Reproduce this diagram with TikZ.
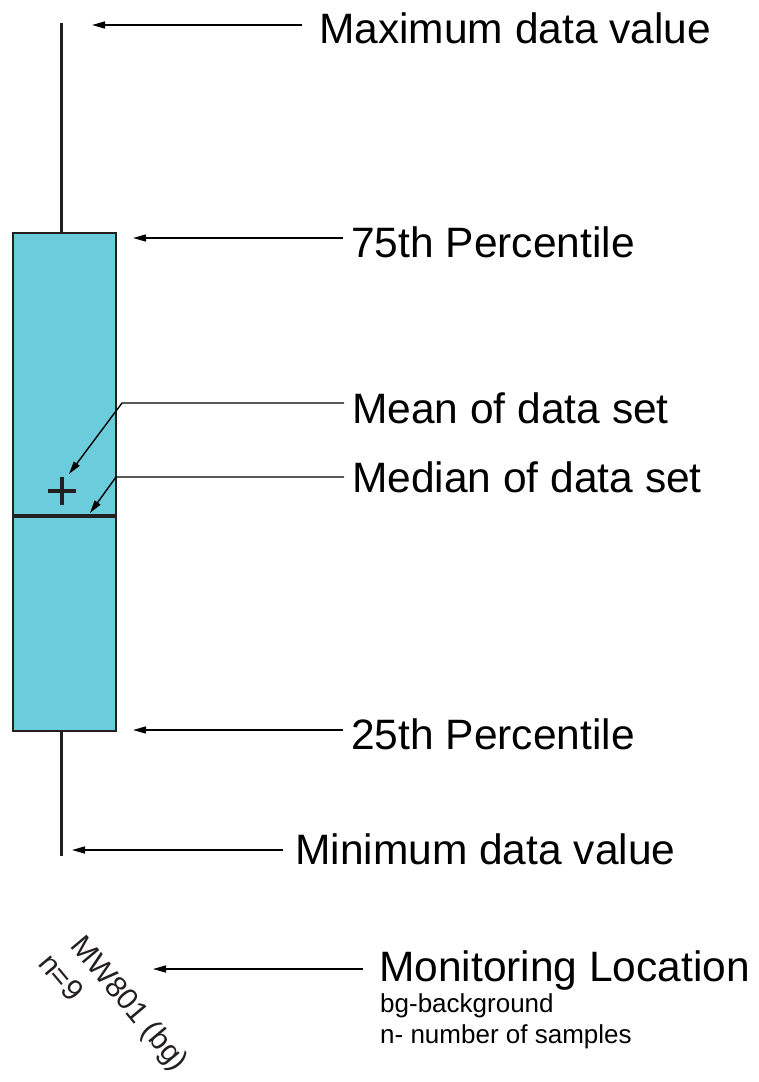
\documentclass[tikz,border=0pt]{standalone}
\usepackage{fontspec}
\setmainfont{Liberation Sans}
\usetikzlibrary{arrows.meta}
\definecolor{boxfill}{HTML}{6BCDDB}
\definecolor{ink}{HTML}{231F20}
\begin{document}
\begin{tikzpicture}[x=1pt,y=-1pt,
  biglabel/.style={anchor=west,inner sep=0pt,font=\fontsize{42.5}{50}\selectfont,text height=30pt,text depth=0pt},
  smalllabel/.style={anchor=base west,inner sep=0pt,font=\fontsize{26}{31}\selectfont},
  rotlabel/.style={anchor=base west,inner sep=0pt,rotate=-50,font=\fontsize{30}{36}\selectfont,text=ink},
  pointer/.style={draw=black,line width=1.4pt,-{Triangle[length=13pt,width=7pt]}},
  whisker/.style={draw=ink,line width=3pt},
  iqrbox/.style={draw=ink,fill=boxfill,line width=2.8pt,minimum width=103pt,minimum height=498pt,inner sep=0pt,outer sep=0pt},
  medianline/.style={draw=ink,line width=4pt},
  plusmark/.style={draw=ink,line width=4pt}]
\useasboundingbox (0,0) rectangle (758,1082);

% box and whiskers
\coordinate (maxpt) at (61,23);
\coordinate (minpt) at (61,856);
\draw[whisker] (maxpt) -- (maxpt |- 0,234);
\draw[whisker] (minpt |- 0,730) -- (minpt);
\node[iqrbox] (box) at (64.5,482) {};
\coordinate (med) at (64.5,516);
\draw[medianline] (box.west |- med) -- (box.east |- med);
\coordinate (meanpt) at (62,491);
\draw[plusmark] (meanpt) ++(-14,0) -- ++(28,0);
\draw[plusmark] (meanpt) ++(0,-14) -- ++(0,28);

% labels and pointers
\node[biglabel] (lmax) at (319,28) {Maximum data value};
\coordinate (tmax) at (92,25);
\draw[pointer] ([xshift=-17pt,yshift=3pt]lmax.west) -- (tmax);

\node[biglabel] (lq3) at (351,242) {75th Percentile};
\coordinate (tq3) at (133,238);
\draw[pointer] ([xshift=-8pt,yshift=4pt]lq3.west) -- (tq3);

\node[biglabel] (lmean) at (352,408) {Mean of data set};
\coordinate (bmean) at (122,403);
\coordinate (tmean) at (69,474);
\draw[pointer] ([xshift=-8pt,yshift=5pt]lmean.west) -- (bmean) -- (tmean);

\node[biglabel] (lmed) at (352,477) {Median of data set};
\coordinate (bmed) at (116,477);
\coordinate (tmed) at (90,513);
\draw[pointer] ([xshift=-8pt]lmed.west) -- (bmed) -- (tmed);

\node[biglabel] (lq1) at (351,734) {25th Percentile};
\coordinate (tq1) at (133,730);
\draw[pointer] ([xshift=-8pt,yshift=4pt]lq1.west) -- (tq1);

\node[biglabel] (lmin) at (295,849) {Minimum data value};
\coordinate (tmin) at (72,850);
\draw[pointer] ([xshift=-12pt,yshift=-1pt]lmin.west) -- (tmin);

\node[biglabel] (lloc) at (379,966) {Monitoring Location};
\coordinate (tloc) at (153,969);
\draw[pointer] ([xshift=-16pt,yshift=-3pt]lloc.west) -- (tloc);

\node[smalllabel] (lbg) at (380,1012) {bg-background};
\node[smalllabel] (ln) at (380,1043) {n- number of samples};

% rotated location label
\node[rotlabel] (loc) at (69,946) {MW801 (bg)};
\node[rotlabel] (cnt) at (37,964) {n=9};
\end{tikzpicture}
\end{document}
